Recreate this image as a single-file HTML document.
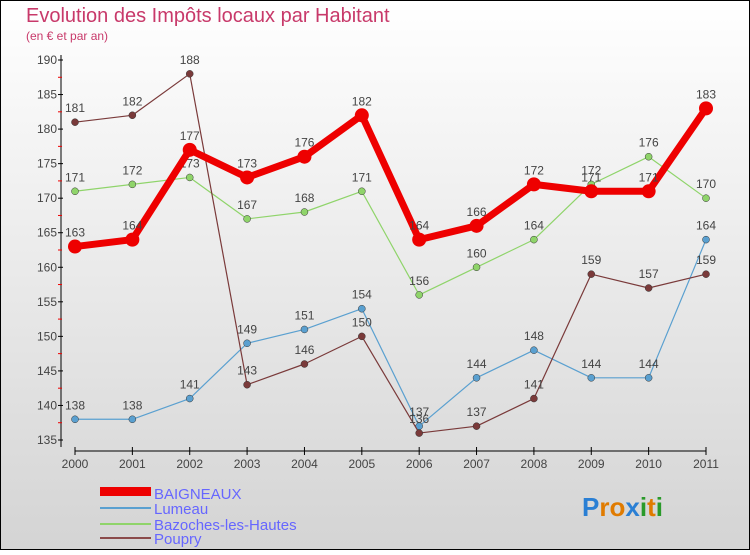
<!DOCTYPE html>
<html><head><meta charset="utf-8"><style>
body{margin:0;width:750px;height:550px;overflow:hidden;font-family:"Liberation Sans",sans-serif}
</style></head><body>
<svg width="750" height="550" xmlns="http://www.w3.org/2000/svg">
<defs><linearGradient id="bg" x1="0" y1="0" x2="0" y2="1"><stop offset="0" stop-color="#ffffff"/><stop offset="1" stop-color="#d4d4d4"/></linearGradient></defs>
<rect x="0.5" y="0.5" width="749" height="549" fill="url(#bg)" stroke="#000"/>
<text x="26" y="22" font-size="20" fill="#c8396a">Evolution des Impôts locaux par Habitant</text>
<text x="26" y="40" font-size="12" fill="#c8396a">(en € et par an)</text>
<g id="axes"></g><g id="series"></g>
<g>
<rect x="100" y="487" width="51" height="9" fill="#e00"/>
<text x="154" y="499" font-size="15" fill="#6666ff">BAIGNEAUX</text>
<line x1="100" y1="508" x2="151" y2="508" stroke="#5aa0d0" stroke-width="2"/>
<text x="154" y="514" font-size="15" fill="#6666ff">Lumeau</text>
<line x1="100" y1="524" x2="151" y2="524" stroke="#8fd46a" stroke-width="2"/>
<text x="154" y="530" font-size="15" fill="#6666ff">Bazoches-les-Hautes</text>
<line x1="100" y1="538" x2="151" y2="538" stroke="#8a4a4a" stroke-width="2"/>
<text x="154" y="544" font-size="15" fill="#6666ff">Poupry</text>
</g>
<text x="582" y="516" font-size="26" font-weight="bold"><tspan fill="#2a7fd4">P</tspan><tspan fill="#e07b00">r</tspan><tspan fill="#e07b00">o</tspan><tspan fill="#2a7fd4">x</tspan><tspan fill="#2a9a2a">i</tspan><tspan fill="#e07b00">t</tspan><tspan fill="#2a9a2a">i</tspan></text>
</svg>
<script>
const years=[2000,2001,2002,2003,2004,2005,2006,2007,2008,2009,2010,2011];
const baigneaux=[163,164,177,173,176,182,164,166,172,171,171,183];
const lumeau=[138,138,141,149,151,154,137,144,148,144,144,164];
const bazoches=[171,172,173,167,168,171,156,160,164,172,176,170];
const poupry=[181,182,188,143,146,150,136,137,141,159,157,159];
const yTicks=[135,140,145,150,155,160,165,170,175,180,185,190];
const NS="http://www.w3.org/2000/svg";
const X=i=>75+i*(706-75)/11;
const Y=v=>60+(190-v)*(380/55);
function mk(tag,attrs,parent){const e=document.createElementNS(NS,tag);for(const k in attrs)e.setAttribute(k,attrs[k]);parent.appendChild(e);return e;}
const ax=document.getElementById('axes');
let l=mk('line',{x1:61,y1:55,x2:61,y2:447,stroke:'#000'},ax);


l=mk('line',{x1:75,y1:451,x2:706,y2:451,stroke:'#000'},ax);


yTicks.forEach(v=>{
 const t=mk('line',{x1:58,y1:Y(v),x2:63,y2:Y(v),stroke:'#000'},ax);
 
 
 if(v<190){const m=mk('line',{x1:58,y1:Y(v+2.5),x2:62,y2:Y(v+2.5),stroke:'#e00'},ax);
 
 }
 const tx=mk('text',{x:57,y:Y(v)+4,'text-anchor':'end','font-size':12,fill:'#444'},ax);tx.textContent=v;
 
 
});
years.forEach((yr,i)=>{
 const t=mk('line',{x1:X(i),y1:447,x2:X(i),y2:455,stroke:'#000'},ax);
 
 
 const tx=mk('text',{x:X(i),y:468,'text-anchor':'middle','font-size':12,fill:'#444'},ax);tx.textContent=yr;
 
 
});
const sg=document.getElementById('series');
function draw(data,color,w,r,name){
 const g=mk('g',{},sg);
 
 
 const p=mk('polyline',{points:data.map((v,i)=>X(i)+','+Y(v)).join(' '),fill:'none',stroke:color,'stroke-width':w,'stroke-linejoin':'round'},g);
 
 
 data.forEach((v,i)=>{
  const c=mk('circle',{cx:X(i),cy:Y(v),r:r,fill:color,stroke:'#333','stroke-width':w>3?0:0.5},g);
  
  
  const t=mk('text',{x:X(i),y:Y(v)-10,'text-anchor':'middle','font-size':12,fill:'#444'},g);t.textContent=v;
  
  
 });
}
draw(bazoches,'#8fd46a',1.2,3.5,'bazoches');
draw(lumeau,'#5aa0d0',1.2,3.5,'lumeau');
draw(poupry,'#7a3a3a',1.2,3.5,'poupry');
draw(baigneaux,'#ee0000',7,7,'baigneaux');
</script>
</body></html>
